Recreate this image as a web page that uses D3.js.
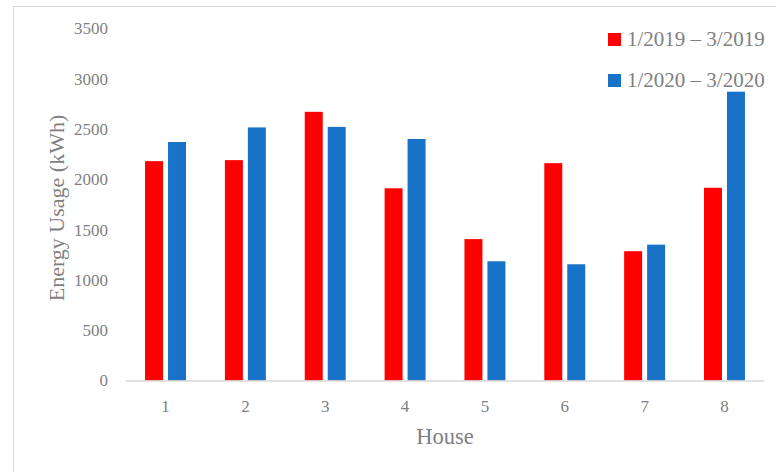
<!DOCTYPE html>
<html>
<head>
<meta charset="utf-8">
<script src="https://cdn.jsdelivr.net/npm/d3@7"></script>
<style>
  html, body { margin: 0; padding: 0; background: #fff; }
  svg { display: block; }
  text { font-family: "Palatino Linotype", "Book Antiqua", Palatino, "Liberation Serif", serif; fill: #7f7f7f; }
</style>
</head>
<body>
<svg id="chart" width="776" height="472"></svg>
<script>
// Quarterly household energy usage, Jan–Mar 2019 vs Jan–Mar 2020
const houses = ["1", "2", "3", "4", "5", "6", "7", "8"];
const seriesNames = ["1/2019 – 3/2019", "1/2020 – 3/2020"];
const usage2019 = [2180, 2190, 2670, 1910, 1405, 2160, 1285, 1915];
const usage2020 = [2370, 2515, 2520, 2400, 1185, 1155, 1350, 2870];
const seriesColors = ["#ff0000", "#1772c8"];
const yTicks = [0, 500, 1000, 1500, 2000, 2500, 3000, 3500];

const svg = d3.select("#chart");

// chart area frame
svg.append("rect")
  .attr("x", 13.5).attr("y", 6.5)
  .attr("width", 800).attr("height", 500)
  .attr("fill", "none").attr("stroke", "#d9d9d9").attr("stroke-width", 1);

const plot = { left: 125.6, right: 764.4, top: 28.3, bottom: 380.5 };

const x0 = d3.scaleBand()
  .domain(houses)
  .range([plot.left, plot.right])
  .paddingInner(0.487)
  .paddingOuter(0.2435);

const x1 = d3.scaleBand()
  .domain(seriesNames)
  .range([0, x0.bandwidth()])
  .paddingInner(0.217);

const y = d3.scaleLinear()
  .domain([0, 3500])
  .range([plot.bottom, plot.top]);

const rows = houses.map((h, i) => ({
  house: h,
  values: [usage2019[i], usage2020[i]]
}));

// bars
const groups = svg.append("g").selectAll("g")
  .data(rows)
  .join("g")
  .attr("transform", d => `translate(${x0(d.house)},0)`);

groups.selectAll("rect")
  .data(d => d.values.map((v, k) => ({ key: seriesNames[k], value: v, k })))
  .join("rect")
  .attr("x", d => x1(d.key))
  .attr("width", x1.bandwidth())
  .attr("y", d => y(d.value))
  .attr("height", d => y(0) - y(d.value))
  .attr("fill", d => seriesColors[d.k]);

// x axis baseline
svg.append("line")
  .attr("x1", plot.left).attr("x2", plot.right)
  .attr("y1", y(0) + 0.5).attr("y2", y(0) + 0.5)
  .attr("stroke", "#d9d9d9").attr("stroke-width", 1.3);

// y axis (labels only)
const yAxis = svg.append("g")
  .attr("transform", `translate(108,0)`)
  .call(d3.axisLeft(y).tickValues(yTicks).tickSize(0).tickPadding(0).tickFormat(d3.format("d")));
yAxis.select(".domain").remove();
yAxis.selectAll("text")
  .attr("font-size", 17)
  .attr("fill", "#7f7f7f");
yAxis.attr("font-family", null);

// x axis (labels only)
const xAxis = svg.append("g")
  .attr("transform", `translate(0,${y(0)})`)
  .call(d3.axisBottom(x0).tickSize(0).tickPadding(19));
xAxis.select(".domain").remove();
xAxis.selectAll("text")
  .attr("font-size", 17)
  .attr("fill", "#7f7f7f");
xAxis.attr("font-family", null);

// axis titles
svg.append("text")
  .attr("x", (plot.left + plot.right) / 2)
  .attr("y", 444)
  .attr("text-anchor", "middle")
  .attr("font-size", 22.5)
  .text("House");

svg.append("text")
  .attr("transform", `translate(64,${208}) rotate(-90)`)
  .attr("text-anchor", "middle")
  .attr("font-size", 22)
  .text("Energy Usage (kWh)");

// legend
const legend = svg.append("g").selectAll("g")
  .data(seriesNames)
  .join("g")
  .attr("transform", (d, i) => `translate(608,${33 + i * 41})`);

legend.append("rect")
  .attr("width", 13).attr("height", 13)
  .attr("fill", (d, i) => seriesColors[i]);

legend.append("text")
  .attr("x", 19)
  .attr("y", 12.5)
  .attr("font-size", 21)
  .text(d => d);
</script>
</body>
</html>
